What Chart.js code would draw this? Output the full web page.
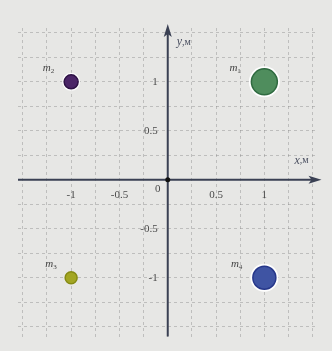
<!DOCTYPE html>
<html lang="ru">

<head>
    <meta charset="UTF-8">
    <script src="https://cdn.jsdelivr.net/npm/chart.js@4.4.1/dist/chart.umd.min.js"></script>
    <title>m1..m4</title>
    <style>
        html, body { margin: 0; padding: 0; background: #e7e7e5; }
        #wrap { width: 332px; height: 351px; }
    </style>
</head>

<body>
    <div id="wrap"><canvas id="myChart" width="332" height="351"></canvas></div>
    <script>
        // points
        var massNames = ['1', '2', '3', '4'];
        var massX = [1, -1, -1, 1];
        var massY = [1, 1, -1, -1];

        // tick labels along the axes
        var xTickValues = [-1, -0.5, 0.5, 1];
        var xTickLabels = ['-1', '-0.5', '0.5', '1'];
        var yTickValues = [1, 0.5, -0.5, -1];
        var yTickLabels = ['1', '0.5', '-0.5', '-1'];

        // grid every 0.25 m
        var gridX = [-1.5, -1.25, -1, -0.75, -0.5, -0.25, 0, 0.25, 0.5, 0.75, 1, 1.25, 1.5];
        var gridY = [-1.5, -1.25, -1, -0.75, -0.5, -0.25, 0, 0.25, 0.5, 0.75, 1, 1.25, 1.5];

        var fills = ['#4f8d5d', '#4b2567', '#a3a622', '#3f54a3'];
        var edges = ['#2f6a40', '#2e1245', '#858a14', '#26378a'];
        var radii = [13, 7, 6, 11.5];
        var rings = [2.5, 2, 0.5, 2.5];

        var serif = '"Liberation Serif", "DejaVu Serif", serif';

        var datasets = massNames.map(function (n, i) {
            return {
                label: 'm' + n,
                data: [{ x: massX[i], y: massY[i] }],
                pointRadius: radii[i],
                pointHoverRadius: radii[i],
                backgroundColor: fills[i],
                borderColor: edges[i],
                borderWidth: 1.5
            };
        });

        var bgPlugin = {
            id: 'bg',
            beforeDraw: function (chart) {
                var c = chart.ctx;
                c.save();
                c.fillStyle = '#e7e7e5';
                c.fillRect(0, 0, chart.width, chart.height);
                c.restore();
            }
        };

        var axesPlugin = {
            id: 'axes',
            beforeDatasetsDraw: function (chart) {
                var c = chart.ctx, xs = chart.scales.x, ys = chart.scales.y;
                var a = chart.chartArea;
                var x0 = xs.getPixelForValue(0), y0 = ys.getPixelForValue(0);
                c.save();
                c.strokeStyle = '#3a4053';
                c.fillStyle = '#3a4053';
                c.lineWidth = 2;
                // x axis
                c.beginPath();
                c.moveTo(a.left, y0);
                c.lineTo(a.right - 2, y0);
                c.stroke();
                c.beginPath();
                c.moveTo(a.right + 4, y0);
                c.lineTo(a.right - 9, y0 - 4);
                c.lineTo(a.right - 6, y0);
                c.lineTo(a.right - 9, y0 + 4);
                c.closePath();
                c.fill();
                // y axis
                c.beginPath();
                c.moveTo(x0, a.bottom);
                c.lineTo(x0, a.top + 2);
                c.stroke();
                c.beginPath();
                c.moveTo(x0, a.top - 4);
                c.lineTo(x0 - 4, a.top + 9);
                c.lineTo(x0, a.top + 6);
                c.lineTo(x0 + 4, a.top + 9);
                c.closePath();
                c.fill();
                // origin dot
                c.fillStyle = '#111';
                c.beginPath();
                c.arc(x0, y0, 2.5, 0, Math.PI * 2);
                c.fill();

                // tick labels
                c.fillStyle = '#4a4a4a';
                c.font = '11px ' + serif;
                c.textAlign = 'center';
                c.textBaseline = 'middle';
                xTickValues.forEach(function (v, i) {
                    c.fillText(xTickLabels[i], xs.getPixelForValue(v), y0 + 15);
                });
                c.fillText('0', x0 - 10, y0 + 9);
                c.textAlign = 'right';
                yTickValues.forEach(function (v, i) {
                    c.fillText(yTickLabels[i], x0 - 10, ys.getPixelForValue(v));
                });

                // axis titles
                c.fillStyle = '#4a4f60';
                c.textAlign = 'left';
                c.font = 'italic 12px ' + serif;
                c.fillText('y', x0 + 9, a.top + 14);
                var w = c.measureText('y').width;
                c.font = '10px ' + serif;
                c.fillText(',м', x0 + 9 + w, a.top + 14);

                c.font = 'italic 12px ' + serif;
                c.fillText('x', a.right - 23, y0 - 19);
                w = c.measureText('x').width;
                c.font = '10px ' + serif;
                c.fillText(',м', a.right - 23 + w, y0 - 19);
                c.restore();
            },
            afterDatasetsDraw: function (chart) {
                var c = chart.ctx;
                c.save();
                chart.data.datasets.forEach(function (ds, i) {
                    var el = chart.getDatasetMeta(i).data[0];
                    var r = radii[i] + rings[i];
                    c.fillStyle = '#444';
                    c.textBaseline = 'middle';
                    c.textAlign = 'left';
                    c.font = 'italic 11px ' + serif;
                    var mw = c.measureText('m').width;
                    c.font = '7px ' + serif;
                    var sw = c.measureText(massNames[i]).width;
                    var left = el.x - r - 8 - mw - sw;
                    c.font = 'italic 11px ' + serif;
                    c.fillText('m', left, el.y - 14);
                    c.font = '7px ' + serif;
                    c.fillText(massNames[i], left + mw, el.y - 11);
                });
                c.restore();
            }
        };

        // white ring around the marks
        var ringPlugin = {
            id: 'ring',
            beforeDatasetsDraw: function (chart) {
                var c = chart.ctx;
                c.save();
                chart.data.datasets.forEach(function (ds, i) {
                    var el = chart.getDatasetMeta(i).data[0];
                    c.fillStyle = 'rgba(255,255,255,0.95)';
                    c.beginPath();
                    c.arc(el.x, el.y, radii[i] + rings[i], 0, Math.PI * 2);
                    c.fill();
                });
                c.restore();
            }
        };

        var ctx = document.getElementById('myChart').getContext('2d');
        var myChart = new Chart(ctx, {
            type: 'scatter',
            data: { datasets: datasets },
            plugins: [bgPlugin, axesPlugin, ringPlugin],
            options: {
                responsive: false,
                animation: false,
                events: [],
                layout: { padding: { left: 18, right: 14, top: 28, bottom: 12 } },
                plugins: { legend: { display: false }, tooltip: { enabled: false } },
                scales: {
                    x: {
                        type: 'linear', min: -1.55, max: 1.55,
                        afterBuildTicks: function (s) { s.ticks = gridX.map(function (v) { return { value: v }; }); },
                        ticks: { display: false },
                        border: { display: false, dash: [3, 3] },
                        grid: { color: 'rgba(130,130,130,0.4)', drawTicks: false, lineWidth: 1 }
                    },
                    y: {
                        type: 'linear', min: -1.6, max: 1.55,
                        afterBuildTicks: function (s) { s.ticks = gridY.map(function (v) { return { value: v }; }); },
                        ticks: { display: false },
                        border: { display: false, dash: [3, 3] },
                        grid: { color: 'rgba(130,130,130,0.4)', drawTicks: false, lineWidth: 1 }
                    }
                }
            }
        });
    </script>
</body>

</html>
